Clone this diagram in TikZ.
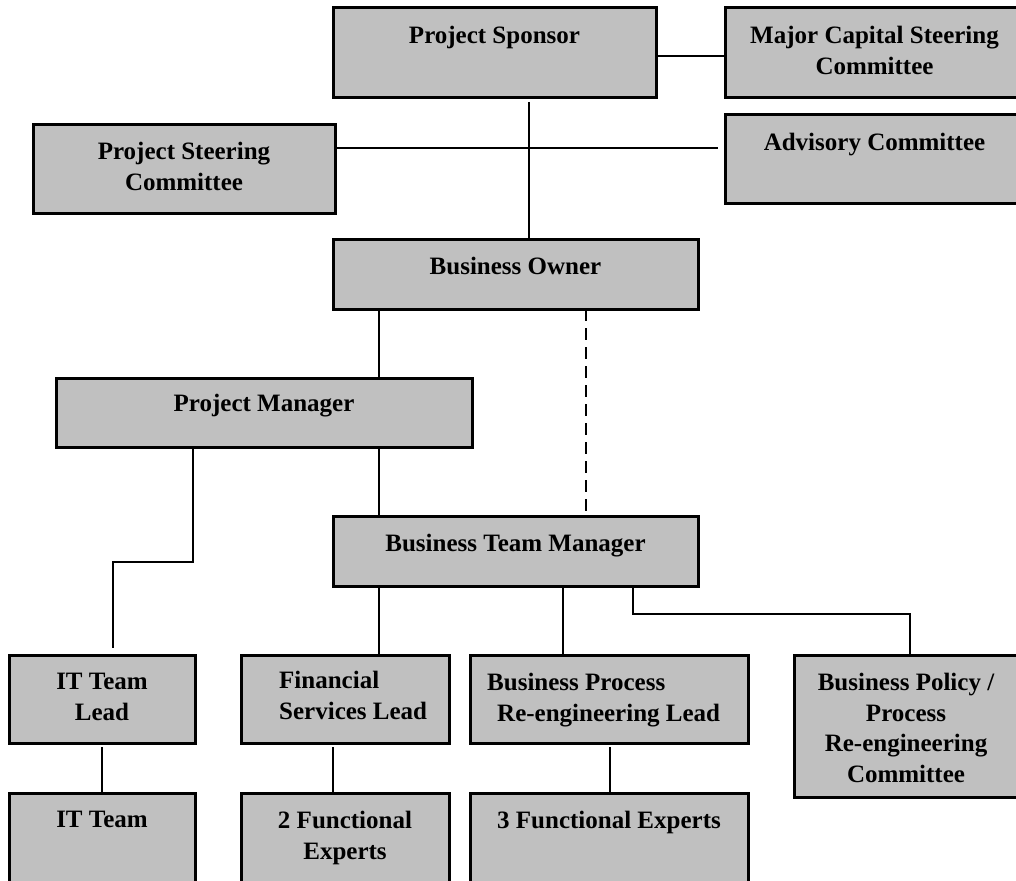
\documentclass[tikz,border=0pt]{standalone}
\usepackage{fontspec}
\setmainfont{Liberation Serif}
\definecolor{boxgray}{RGB}{192,192,192}
\begin{document}
\begin{tikzpicture}[x=1pt,y=-1pt,
  box/.style={draw=black, fill=boxgray, line width=3pt, anchor=north west, inner sep=0pt, outer sep=0pt},
  lbl/.style={anchor=north, inner sep=0pt, font=\fontsize{25}{30.5}\selectfont\bfseries, align=center, yshift=-18pt},
  conn/.style={line width=2pt},
  thinconn/.style={line width=1.3pt},
  dashconn/.style={line width=2pt, dash pattern=on 12pt off 7pt}]
\useasboundingbox (0,0) rectangle (1016,880);

% boxes
\node[box, minimum width=323pt, minimum height=90pt, label={[lbl]north:Project Sponsor}] (ps) at (333,8) {};
\node[box, minimum width=299pt, minimum height=90pt, label={[lbl]north:Major Capital Steering\\Committee}] (mc) at (725,8) {};
\node[box, minimum width=302pt, minimum height=89pt, label={[lbl]north:Project Steering\\Committee}] (psc) at (33,124) {};
\node[box, minimum width=299pt, minimum height=88pt, label={[lbl]north:Advisory Committee}] (adv) at (725,115) {};
\node[box, minimum width=365pt, minimum height=70pt, label={[lbl]north:Business Owner}] (bo) at (333,239) {};
\node[box, minimum width=416pt, minimum height=69pt, label={[lbl,yshift=2pt]north:Project Manager}] (pm) at (56,378) {};
\node[box, minimum width=365pt, minimum height=70pt, label={[lbl]north:Business Team Manager}] (btm) at (333,516) {};
\node[box, minimum width=186pt, minimum height=88pt, label={[lbl]north:IT Team\\Lead}] (itl) at (9,655) {};
\node[box, minimum width=208pt, minimum height=88pt, label={[lbl, anchor=north west, align=left, xshift=38pt, yshift=2pt]north west:Financial\\Services Lead}] (fsl) at (241,655) {};
\node[box, minimum width=278pt, minimum height=88pt, label={[lbl, anchor=north west, align=left, xshift=17pt]north west:Business Process\\\hspace*{10pt}Re-engineering Lead}] (bpr) at (470,655) {};
\node[box, minimum width=224pt, minimum height=142pt, label={[lbl]north:Business Policy /\\Process\\Re-engineering\\Committee}] (bp) at (794,655) {};
\node[box, minimum width=186pt, minimum height=100pt, label={[lbl]north:IT Team}] (itt) at (9,793) {};
\node[box, minimum width=208pt, minimum height=100pt, label={[lbl]north:2 Functional\\Experts}] (fe2) at (241,793) {};
\node[box, minimum width=278pt, minimum height=100pt, label={[lbl]north:3 Functional Experts}] (fe3) at (470,793) {};

% connectors
\draw[conn] ([yshift=-3pt]ps.east) coordinate (c1) -- (c1 -| mc.west);
\draw[conn, shorten >=7pt] ([yshift=-24pt]psc.north east) coordinate (c2) -- (c2 -| adv.west);
\draw[conn, shorten <=4pt] ([xshift=196pt]ps.south west) coordinate (c3) -- (c3 |- bo.north);
\draw[conn] ([xshift=46pt]bo.south west) coordinate (c4) -- (c4 |- pm.north);
\draw[dashconn] ([xshift=253pt]bo.south west) coordinate (c5) -- (c5 |- btm.north);
\draw[thinconn] ([xshift=46pt]btm.north west) coordinate (c6) -- (c6 |- pm.south);
\draw[thinconn, shorten >=7pt] ([xshift=137pt]pm.south west) -- ++(0,115) -| ([xshift=104pt]itl.north west);
\draw[conn] ([xshift=46pt]btm.south west) coordinate (c7) -- (c7 |- fsl.north);
\draw[conn] ([xshift=230pt]btm.south west) coordinate (c8) -- (c8 |- bpr.north);
\draw[conn] ([xshift=300pt]btm.south west) -- ++(0,28) -| ([xshift=116pt]bp.north west);
\draw[conn, shorten <=4pt] (itl.south) -- (itt.north);
\draw[conn, shorten <=4pt] ([xshift=92pt]fsl.south west) coordinate (c9) -- (c9 |- fe2.north);
\draw[conn, shorten <=4pt] ([xshift=140pt]bpr.south west) coordinate (c10) -- (c10 |- fe3.north);
\end{tikzpicture}
\end{document}
